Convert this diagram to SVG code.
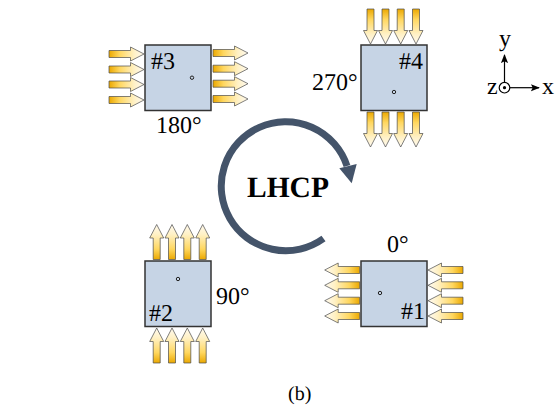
<svg xmlns="http://www.w3.org/2000/svg" width="560" height="412" viewBox="0 0 560 412">
<style>
text{font-family:"Liberation Serif","Times New Roman",serif;fill:#000;text-rendering:geometricPrecision}
.l{font-size:24px}
.box{fill:#c6d4e5;stroke:#333;stroke-width:1.5}
.dot{fill:none;stroke:#222;stroke-width:1}
.ax{stroke:#000;stroke-width:1.2;fill:none}
</style>
<defs>
<linearGradient id="g" gradientUnits="userSpaceOnUse" x1="0" y1="0" x2="35" y2="0">
<stop offset="0" stop-color="#eba800"/><stop offset="0.3" stop-color="#ffd75f"/><stop offset="0.72" stop-color="#fff1c6"/><stop offset="1" stop-color="#fffaf0"/>
</linearGradient>
<path id="a" d="M0-3.500H21.500V-7L35 0 21.500 7V3.500H0Z" fill="url(#g)" stroke="#4a4a4a" stroke-width="0.7" stroke-linejoin="miter"/>
<marker id="ah" viewBox="0 0 10 10" refX="9" refY="5" markerWidth="9" markerHeight="9" markerUnits="userSpaceOnUse" orient="auto"><path d="M0 1L10 5 0 9 2 5Z" fill="#000"/></marker>
</defs>
<g id="connectors">
<path id="rotation" d="M323.500 238.500A64.500 64.500 0 1 1 347 166" fill="none" stroke="#44546a" stroke-width="7"/>
<path d="M339.300 168.300L356.700 164 351.700 183.300Z" fill="#44546a"/>
<path class="ax" d="M504.500 82V55" marker-end="url(#ah)"/>
<path class="ax" d="M510 87.700H539" marker-end="url(#ah)"/>
</g>
<g id="node3">
<rect class="box" x="145" y="45" width="66" height="65.500"/>
<circle class="dot" cx="192" cy="77.700" r="1.700"/>
<text class="l" x="151" y="69">#3</text>
<text class="l" x="156" y="133">180°</text>
<use href="#a" transform="translate(109 54)"/><use href="#a" transform="translate(109 69.500)"/><use href="#a" transform="translate(109 84.500)"/><use href="#a" transform="translate(109 100)"/>
<use href="#a" transform="translate(213 53)"/><use href="#a" transform="translate(213 68.700)"/><use href="#a" transform="translate(213 83.700)"/><use href="#a" transform="translate(213 99)"/>
</g>
<g id="node4">
<rect class="box" x="361" y="45" width="66" height="65.500"/>
<circle class="dot" cx="394" cy="92" r="1.700"/>
<text class="l" x="399" y="69">#4</text>
<text class="l" x="312" y="90">270°</text>
<use href="#a" transform="translate(370.500 9) rotate(90)"/><use href="#a" transform="translate(385.500 9) rotate(90)"/><use href="#a" transform="translate(400.700 9) rotate(90)"/><use href="#a" transform="translate(416 9) rotate(90)"/>
<use href="#a" transform="translate(370.500 112) rotate(90)"/><use href="#a" transform="translate(385.500 112) rotate(90)"/><use href="#a" transform="translate(400.700 112) rotate(90)"/><use href="#a" transform="translate(416 112) rotate(90)"/>
</g>
<g id="node2">
<rect class="box" x="145" y="261" width="66" height="65.500"/>
<circle class="dot" cx="178" cy="279" r="1.700"/>
<text class="l" x="149" y="321">#2</text>
<text class="l" x="216" y="304">90°</text>
<use href="#a" transform="translate(156.700 259.500) rotate(-90)"/><use href="#a" transform="translate(172 259.500) rotate(-90)"/><use href="#a" transform="translate(187.300 259.500) rotate(-90)"/><use href="#a" transform="translate(202.700 259.500) rotate(-90)"/>
<use href="#a" transform="translate(156.700 363) rotate(-90)"/><use href="#a" transform="translate(172 363) rotate(-90)"/><use href="#a" transform="translate(187.300 363) rotate(-90)"/><use href="#a" transform="translate(202.700 363) rotate(-90)"/>
</g>
<g id="node1">
<rect class="box" x="361" y="261" width="66" height="65.500"/>
<circle class="dot" cx="380" cy="293" r="1.700"/>
<text class="l" x="401" y="319">#1</text>
<text class="l" x="387" y="252">0°</text>
<use href="#a" transform="translate(359.700 270) rotate(180)"/><use href="#a" transform="translate(359.700 285.300) rotate(180)"/><use href="#a" transform="translate(359.700 300.700) rotate(180)"/><use href="#a" transform="translate(359.700 316) rotate(180)"/>
<use href="#a" transform="translate(463 270) rotate(180)"/><use href="#a" transform="translate(463 285.300) rotate(180)"/><use href="#a" transform="translate(463 300.700) rotate(180)"/><use href="#a" transform="translate(463 316) rotate(180)"/>
</g>
<g id="center">
<text x="247" y="197" font-size="29.500" font-weight="700">LHCP</text>
</g>
<g id="axes">
<circle cx="504.500" cy="87.700" r="5.300" fill="none" stroke="#000" stroke-width="1.200"/>
<circle cx="504.500" cy="87.700" r="1.600" fill="#000"/>
<text class="l" x="499" y="46">y</text>
<text class="l" x="487" y="94">z</text>
<text class="l" x="542" y="94">x</text>
</g>
<text x="288" y="400" font-size="20">(b)</text>
</svg>
